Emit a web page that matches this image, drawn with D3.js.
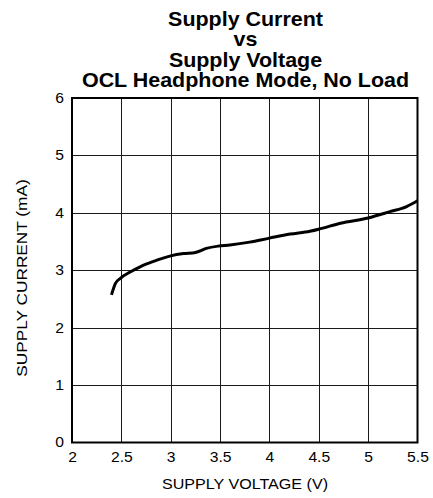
<!DOCTYPE html>
<html>
<head>
<meta charset="utf-8">
<script src="https://cdn.jsdelivr.net/npm/d3@7"></script>
<style>
  html, body { margin: 0; padding: 0; background: #fff; }
  text { font-family: "Liberation Sans", Arial, Helvetica, sans-serif; fill: #000; }
</style>
</head>
<body>
<script>
// Supply current vs supply voltage, OCL headphone mode, no load
const voltage = [2.4, 2.44, 2.49, 2.59, 2.69, 2.82, 3.0, 3.13, 3.25, 3.36, 3.48, 3.6, 3.8, 4.0, 4.21, 4.41, 4.51, 4.72, 5.0, 5.22, 5.39, 5.5];
const current = [2.57, 2.77, 2.86, 2.97, 3.06, 3.15, 3.25, 3.29, 3.31, 3.38, 3.42, 3.44, 3.49, 3.56, 3.63, 3.68, 3.72, 3.82, 3.91, 4.02, 4.11, 4.21];
const xTicks = [2, 2.5, 3, 3.5, 4, 4.5, 5, 5.5];
const yTicks = [0, 1, 2, 3, 4, 5, 6];
const titleLines = ["Supply Current", "vs", "Supply Voltage", "OCL Headphone Mode, No Load"];
const xLabel = "SUPPLY VOLTAGE (V)";
const yLabel = "SUPPLY CURRENT (mA)";

const W = 433, H = 498;
const plot = { left: 72, right: 417.5, top: 98, bottom: 442.5 };
const stretch = 1.12; // slightly wide lettering

const svg = d3.select("body").append("svg")
  .attr("width", W).attr("height", H);

const x = d3.scaleLinear().domain([2, 5.5]).range([plot.left, plot.right]);
const y = d3.scaleLinear().domain([0, 6]).range([plot.bottom, plot.top]);

// grid
const grid = svg.append("g").attr("stroke", "#1a1a1a").attr("stroke-width", 1);
grid.selectAll("line.v").data(xTicks.slice(1, -1)).join("line")
  .attr("x1", d => Math.round(x(d)) + 0.5).attr("x2", d => Math.round(x(d)) + 0.5)
  .attr("y1", plot.top).attr("y2", plot.bottom);
grid.selectAll("line.h").data(yTicks.slice(1, -1)).join("line")
  .attr("y1", d => Math.round(y(d)) + 0.5).attr("y2", d => Math.round(y(d)) + 0.5)
  .attr("x1", plot.left).attr("x2", plot.right);

// frame
svg.append("rect")
  .attr("x", plot.left).attr("y", plot.top)
  .attr("width", plot.right - plot.left).attr("height", plot.bottom - plot.top)
  .attr("fill", "none").attr("stroke", "#000").attr("stroke-width", 2);

// tick labels
const xAxis = d3.axisBottom(x).tickValues(xTicks).tickSize(0).tickPadding(10)
  .tickFormat(d3.format("~g"));
const gx = svg.append("g").attr("transform", `translate(0,${plot.bottom})`).call(xAxis);
gx.select(".domain").remove();
gx.selectAll("text").attr("font-size", 14).attr("font-family", "Liberation Sans, Arial, sans-serif")
  .attr("fill", "#000").attr("transform", `scale(${stretch},1)`);

const yAxis = d3.axisLeft(y).tickValues(yTicks).tickSize(0).tickPadding(8)
  .tickFormat(d3.format("~g"));
const gy = svg.append("g").attr("transform", `translate(${plot.left},0)`).call(yAxis);
gy.select(".domain").remove();
gy.selectAll("text").attr("font-size", 14).attr("font-family", "Liberation Sans, Arial, sans-serif")
  .attr("fill", "#000").attr("x", -8 / stretch).attr("transform", `scale(${stretch},1)`);

// curve
const line = d3.line().x((d, i) => x(voltage[i])).y((d, i) => y(current[i])).curve(d3.curveMonotoneX);
svg.append("path").datum(current)
  .attr("d", line).attr("fill", "none").attr("stroke", "#000")
  .attr("stroke-width", 3).attr("stroke-linejoin", "round");

// titles
const title = svg.append("g").attr("transform", "translate(245.5,0) scale(1.1,1)");
title.selectAll("text").data(titleLines).join("text")
  .attr("x", 0).attr("y", (d, i) => 26 + i * 20.5)
  .attr("text-anchor", "middle").attr("font-weight", "bold").attr("font-size", 19.5)
  .text(d => d);

svg.append("text")
  .attr("transform", "translate(245,488.5) scale(1.15,1)")
  .attr("text-anchor", "middle").attr("font-size", 14).text(xLabel);

svg.append("text")
  .attr("transform", "translate(26.5,278) rotate(-90) scale(1.15,1)")
  .attr("text-anchor", "middle").attr("font-size", 15).text(yLabel);
</script>
</body>
</html>
